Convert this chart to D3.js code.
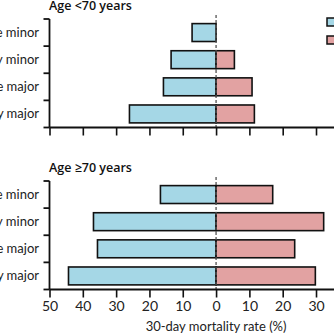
<!DOCTYPE html>
<html>
<head>
<meta charset="utf-8">
<script src="https://cdn.jsdelivr.net/npm/d3@7"></script>
<style>
  html, body { margin: 0; padding: 0; background: #fff; overflow: hidden; }
  svg { display: block; font-family: Lato, "Open Sans", sans-serif; }
</style>
</head>
<body>
<div id="chart"></div>
<script>
// categories (top to bottom) and values
const categories = ['Elective minor', 'Emergency minor', 'Elective major', 'Emergency major'];
const panelTitles = ['Age <70 years', 'Age \u226570 years'];
// left (blue) and right (pink) series, % 30-day mortality
const youngLeft = [7.2, 13.5, 15.8, 26];
const youngRight = [0, 5.5, 10.8, 11.5];
const oldLeft = [16.7, 36.8, 35.6, 44.3];
const oldRight = [17, 32.3, 23.6, 29.8];
const tickValues = [-50, -40, -30, -20, -10, 0, 10, 20, 30];

const width = 334, height = 334;
const blue = '#a5d7e6', pink = '#e2a2a2';

const svg = d3.select('#chart').append('svg')
  .attr('width', width)
  .attr('height', height);

const x = d3.scaleLinear()
  .domain([-50, 36])
  .range([49.5, 336]);

const panels = [
  {title: panelTitles[0], left: youngLeft, right: youngRight, top: 19, bottom: 127.5, labels: false},
  {title: panelTitles[1], left: oldLeft, right: oldRight, top: 181, bottom: 289.5, labels: true}
];

panels.forEach(p => {
  const y = d3.scaleBand()
    .domain(categories)
    .range([p.top, p.bottom])
    .paddingInner(0.34)
    .paddingOuter(0.17);
  const g = svg.append('g');

  // bars
  g.append('g').selectAll('rect')
    .data(categories.map((c, i) => ({c, v: p.left[i]})).filter(d => d.v > 0))
    .join('rect')
      .attr('x', d => x(-d.v))
      .attr('y', d => y(d.c))
      .attr('width', d => x(0) - x(-d.v))
      .attr('height', y.bandwidth())
      .attr('fill', blue)
      .attr('stroke', '#111')
      .attr('stroke-width', 1.6);

  g.append('g').selectAll('rect')
    .data(categories.map((c, i) => ({c, v: p.right[i]})).filter(d => d.v > 0))
    .join('rect')
      .attr('x', x(0))
      .attr('y', d => y(d.c))
      .attr('width', d => x(d.v) - x(0))
      .attr('height', y.bandwidth())
      .attr('fill', pink)
      .attr('stroke', '#111')
      .attr('stroke-width', 1.6);

  // dashed zero line
  g.append('line')
    .attr('x1', x(0)).attr('x2', x(0))
    .attr('y1', p.top - 4).attr('y2', p.bottom)
    .attr('stroke', '#555')
    .attr('stroke-width', 1.3)
    .attr('stroke-dasharray', '3,2');

  // y axis with ticks at band boundaries
  const yBounds = d3.range(categories.length + 1).map(i => p.top + i * (p.bottom - p.top) / categories.length);
  g.append('line')
    .attr('x1', x(-50)).attr('x2', x(-50))
    .attr('y1', p.top).attr('y2', p.bottom)
    .attr('stroke', '#111').attr('stroke-width', 1.8);
  g.append('g').selectAll('line')
    .data(yBounds)
    .join('line')
      .attr('x1', x(-50) - 6).attr('x2', x(-50))
      .attr('y1', d => d).attr('y2', d => d)
      .attr('stroke', '#111').attr('stroke-width', 1.8);

  g.append('g').selectAll('text')
    .data(categories)
    .join('text')
      .attr('x', 39)
      .attr('y', d => y(d) + y.bandwidth() / 2)
      .attr('dy', '0.35em')
      .attr('text-anchor', 'end')
      .attr('font-size', 13)
      .attr('fill', '#222')
      .text(d => d);

  // x axis
  const xAxis = d3.axisBottom(x)
    .tickValues(tickValues)
    .tickSize(8)
    .tickFormat(p.labels ? (d => Math.abs(d)) : '');
  const ax = g.append('g')
    .attr('transform', `translate(0,${p.bottom})`)
    .call(xAxis);
  ax.select('.domain').attr('d', `M${x(-50)},0H${width + 5}`)
    .attr('stroke', '#111').attr('stroke-width', 1.8);
  ax.selectAll('.tick line').attr('stroke', '#111').attr('stroke-width', 1.6);
  ax.selectAll('.tick text')
    .attr('font-size', 14)
    .attr('font-family', 'Lato, "Open Sans", sans-serif')
    .attr('fill', '#222')
    .attr('dy', '0.75em');

  // panel title
  g.append('text')
    .attr('x', 49)
    .attr('y', p.top - 9.5)
    .attr('font-size', 12.5)
    .attr('font-family', '"Open Sans", sans-serif')
    .attr('font-weight', 600)
    .attr('fill', '#111')
    .text(p.title);
});

// legend swatches (labels lie beyond the cropped edge)
svg.append('g').selectAll('rect')
  .data([blue, pink])
  .join('rect')
    .attr('x', 327)
    .attr('y', (d, i) => 18 + i * 18)
    .attr('width', 10)
    .attr('height', 8)
    .attr('fill', d => d)
    .attr('stroke', '#111')
    .attr('stroke-width', 1.5);

svg.append('text')
  .attr('x', x(0))
  .attr('y', 331)
  .attr('text-anchor', 'middle')
  .attr('font-size', 13)
  .attr('fill', '#222')
  .text('30-day mortality rate (%)');
</script>
</body>
</html>
